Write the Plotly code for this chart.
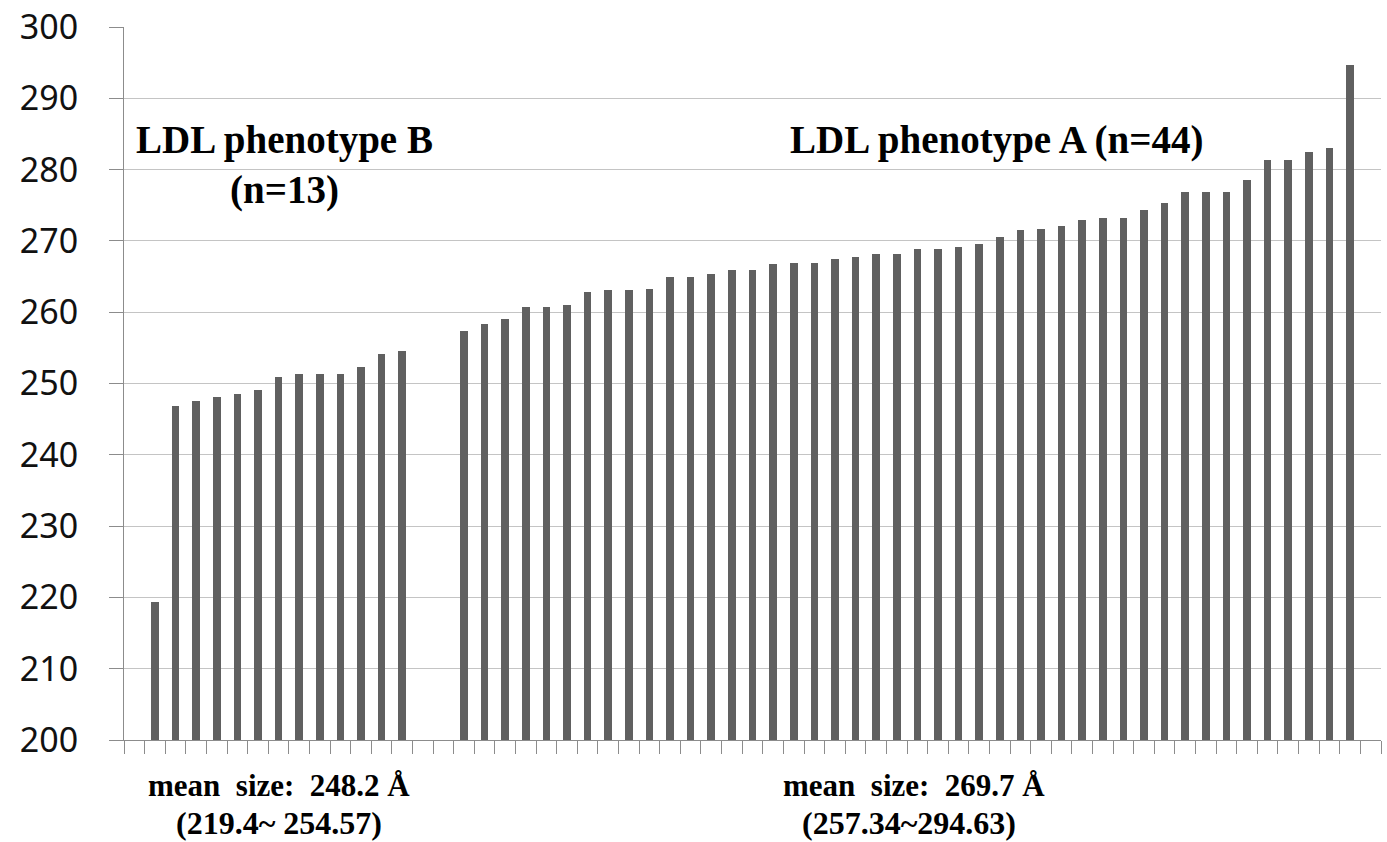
import plotly.graph_objects as go

# LDL particle size per subject (Å), sorted within each phenotype
phenotype_b = [219.4, 246.8, 247.5, 248.1, 248.5, 249.1, 250.9, 251.3, 251.3,
               251.4, 252.3, 254.1, 254.57]
phenotype_a = [257.34, 258.4, 259.0, 260.7, 260.7, 261.0, 262.8, 263.1, 263.1, 263.2,
               265.0, 265.0, 265.4, 265.9, 265.9, 266.8, 266.9, 266.9, 267.4, 267.8,
               268.2, 268.2, 268.9, 268.9, 269.2, 269.6, 270.5, 271.5, 271.7, 272.1,
               272.9, 273.2, 273.2, 274.4, 275.3, 276.8, 276.8, 276.8, 278.5, 281.3,
               281.3, 282.4, 283.0, 294.63]

label_b = ["LDL phenotype B", "(n=13)"]
label_a = "LDL phenotype A (n=44)"
summary_b = ["mean  size:  248.2 Å", "(219.4~ 254.57)"]
summary_a = ["mean  size:  269.7 Å", "(257.34~294.63)"]

# one empty slot before B, two between groups, one after A
n_slots = 1 + len(phenotype_b) + 2 + len(phenotype_a) + 1
x_b = list(range(1, 1 + len(phenotype_b)))
x_a = list(range(x_b[-1] + 3, x_b[-1] + 3 + len(phenotype_a)))

bar_color = '#606060'
serif = 'Liberation Serif'

fig = go.Figure()
fig.add_trace(go.Bar(x=x_b, y=phenotype_b, width=0.37,
                     marker=dict(color=bar_color, line=dict(width=0)),
                     showlegend=False))
fig.add_trace(go.Bar(x=x_a, y=phenotype_a, width=0.37,
                     marker=dict(color=bar_color, line=dict(width=0)),
                     showlegend=False))

annotations = []


def note(text, x, y, size):
    annotations.append(dict(text='<b>%s</b>' % text, x=x, y=y, xref='paper', yref='paper',
                            xanchor='center', yanchor='middle', showarrow=False,
                            font=dict(family=serif, size=size, color='black')))


note(label_b[0], 0.1273, 0.8415, 39)
note(label_b[1], 0.1273, 0.7714, 39)
note(label_a, 0.6945, 0.8415, 39)
note(summary_b[0], 0.1235, -0.0645, 31)
note(summary_b[1], 0.1237, -0.1160, 32)
note(summary_a[0], 0.6281, -0.0645, 31)
note(summary_a[1], 0.6245, -0.1160, 32)

fig.update_layout(
    width=1387, height=842,
    margin=dict(l=124, r=6, t=27, b=102, autoexpand=False),
    paper_bgcolor='white', plot_bgcolor='white',
    bargap=0,
    annotations=annotations,
    xaxis=dict(
        range=[-0.5, n_slots - 0.5],
        tickmode='array',
        tickvals=[i - 0.5 for i in range(n_slots + 1)],
        showticklabels=False,
        ticks='outside', ticklen=13, tickcolor='#8c8c8c', tickwidth=1,
        showline=True, linecolor='#8c8c8c', linewidth=1,
        showgrid=False, zeroline=False,
    ),
    yaxis=dict(
        range=[200, 300],
        dtick=10,
        ticks='outside', ticklen=14, tickcolor='#8c8c8c', tickwidth=1,
        ticklabelstandoff=24,
        showline=True, linecolor='#8c8c8c', linewidth=1,
        showgrid=True, gridcolor='#c4c4c4', gridwidth=1,
        zeroline=False,
        tickfont=dict(family='Noto Sans', size=34, color='#111111'),
    ),
)

# drop the page's default 8px body margin so the figure sits at the corner
fig.write_html("out.html", config={'displayModeBar': False},
               post_script="document.body.style.margin = '0';")
